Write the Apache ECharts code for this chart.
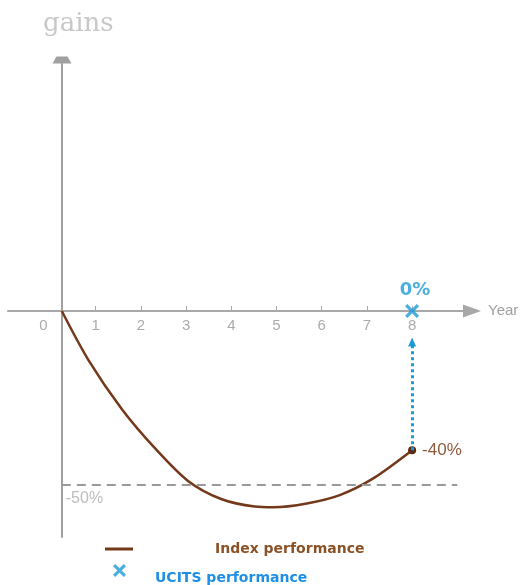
<!DOCTYPE html>
<html>
<head>
<meta charset="utf-8">
<title>Index vs UCITS performance</title>
<script src="https://cdn.jsdelivr.net/npm/echarts@6/dist/echarts.min.js"></script>
<style>
  html, body { margin: 0; padding: 0; background: #fff; }
  #chart { width: 527px; height: 585px; }
</style>
</head>
<body>
<div id="chart"></div>
<script>
// Index path over the holding period (years, % gain)
const years = [0.25, 0.84, 1.58, 2.31, 3.05, 3.79, 4.52, 4.93, 5.67, 6.40, 7.14, 8];
const indexPerf = [0, -14.1, -28.2, -39.4, -48.9, -54.1, -56.2, -56.4, -55.3, -52.9, -48.1, -40];

// UCITS outcome at maturity
const ucitsYears = [8];
const ucitsPerf = [0];

// Protection floor
const floorLevel = -50;
const floorSpan = [0.25, 9];

// Axis ticks and labels
const tickYears = [1, 2, 3, 4, 5, 6, 7, 8];
const labelYears = [0, 1, 2, 3, 4, 5, 6, 7, 8];

const BROWN = '#74391b';
const BLUE = '#1b9ad8';
const AXIS = '#a8a8a8';
const CROSS = 'path://M0,2 L2,0 L6,4 L10,0 L12,2 L8,6 L12,10 L10,12 L6,8 L2,12 L0,10 L4,6 Z';

// y range keeps 0 at the horizontal axis; x axis is shifted up onto y = 0
const Y_MIN = -64.94, Y_MAX = 72.13;
const GRID = { left: 8, right: 55, top: 60, bottom: 48 };
const xAxisShift = -Math.round((585 - GRID.top - GRID.bottom) * (0 - Y_MIN) / (Y_MAX - Y_MIN));

const indexData = years.map((y, i) => {
  const last = i === years.length - 1;
  return last ? {
    value: [y, indexPerf[i]],
    symbol: 'circle',
    symbolSize: 8,
    itemStyle: { color: '#5a2a12' },
    label: {
      show: true, position: 'right', distance: 6,
      formatter: indexPerf[i] + '%',
      color: '#8d5a3e', fontFamily: 'Liberation Sans', fontSize: 17
    }
  } : { value: [y, indexPerf[i]] };
});

const chart = echarts.init(document.getElementById('chart'), null, { renderer: 'canvas' });

const legendText = { fontFamily: 'DejaVu Sans', fontSize: 14, fontWeight: 'bold' };

chart.setOption({
  animation: false,
  backgroundColor: '#fff',
  title: {
    text: 'gains',
    left: 43, top: 11, padding: 0,
    textStyle: { fontFamily: 'DejaVu Serif', fontSize: 26, fontWeight: 'normal', color: '#c8c8c8' }
  },
  legend: [
    {
      data: ['Index performance'],
      left: 105, top: 542, padding: 0,
      icon: 'rect', itemWidth: 28, itemHeight: 3,
      selectedMode: false,
      textStyle: Object.assign({ color: '#8a5226', padding: [0, 0, 0, 77] }, legendText)
    },
    {
      // marker only
      data: ['UCITS performance'],
      left: 113, top: 564, padding: 0,
      icon: CROSS, itemWidth: 13, itemHeight: 13,
      selectedMode: false,
      formatter: () => '',
      textStyle: legendText
    },
    {
      // caption only
      data: ['UCITS performance'],
      left: 150, top: 571, padding: 0,
      icon: 'rect', itemWidth: 0, itemHeight: 0,
      itemStyle: { opacity: 0 },
      selectedMode: false,
      textStyle: Object.assign({ color: '#1f8fe6' }, legendText)
    }
  ],
  grid: Object.assign({ outerBoundsMode: 'none' }, GRID),
  xAxis: {
    type: 'value',
    min: -0.94, max: 9.325,
    position: 'bottom',
    offset: xAxisShift,
    name: 'Year',
    nameLocation: 'end',
    nameGap: 16,
    nameTextStyle: { color: '#a0a0a0', fontFamily: 'Liberation Sans', fontSize: 15, verticalAlign: 'middle' },
    axisLine: {
      onZero: false,
      lineStyle: { color: AXIS, width: 2 },
      symbol: ['none', 'triangle'],
      symbolSize: [13, 18]
    },
    axisTick: { show: true, inside: true, length: 5, customValues: tickYears, lineStyle: { color: AXIS, width: 1 } },
    axisLabel: {
      show: true,
      customValues: labelYears,
      margin: 7,
      color: '#ababab', fontFamily: 'Liberation Sans', fontSize: 15,
      formatter: v => v === 0 ? '{z|0}' : String(v),
      rich: { z: { color: '#ababab', fontFamily: 'Liberation Sans', fontSize: 15, padding: [0, 14, 0, 0] } }
    },
    splitLine: { show: false }
  },
  yAxis: {
    type: 'value',
    min: Y_MIN, max: Y_MAX,
    position: 'left',
    offset: -54,
    axisLine: {
      show: true, onZero: false,
      lineStyle: { color: '#a0a0a0', width: 2 },
      symbol: ['none', 'path://M4,0 L15,0 L19,7 L0,7 Z'],
      symbolSize: [19, 7]
    },
    axisTick: { show: false },
    axisLabel: { show: false },
    splitLine: { show: false }
  },
  series: [
    {
      name: 'Floor',
      type: 'line',
      data: [],
      silent: true,
      z: 1,
      markLine: {
        silent: true,
        symbol: 'none',
        lineStyle: { color: '#9a9a9a', width: 2, type: [9, 6] },
        label: {
          show: true, position: 'insideStartBottom', distance: [4, 6],
          formatter: floorLevel + '%',
          color: '#bdbdbd', fontFamily: 'Liberation Sans', fontSize: 16
        },
        data: [[{ coord: [floorSpan[0], floorLevel] }, { coord: [floorSpan[1], floorLevel] }]]
      }
    },
    {
      name: 'Index performance',
      type: 'line',
      data: indexData,
      smooth: 0.3,
      symbol: 'none',
      color: BROWN,
      lineStyle: { color: BROWN, width: 2.5 },
      z: 3
    },
    {
      name: 'UCITS performance',
      type: 'scatter',
      data: ucitsYears.map((y, i) => [y, ucitsPerf[i]]),
      symbol: CROSS,
      symbolSize: 14,
      color: BLUE,
      itemStyle: { color: BLUE },
      label: {
        show: true, position: 'top', distance: 5, offset: [3, 0],
        formatter: p => p.value[1] + '%',
        color: BLUE, fontFamily: 'DejaVu Sans', fontSize: 18, fontWeight: 'bold'
      },
      z: 4,
      markLine: {
        silent: true,
        symbol: ['none', 'triangle'],
        symbolSize: [8, 9],
        label: { show: false },
        lineStyle: { color: BLUE, width: 3, type: [3, 3] },
        data: [[{ coord: [ucitsYears[0], indexPerf[indexPerf.length - 1]] }, { coord: [ucitsYears[0], -8.9] }]]
      }
    }
  ]
});
</script>
</body>
</html>
